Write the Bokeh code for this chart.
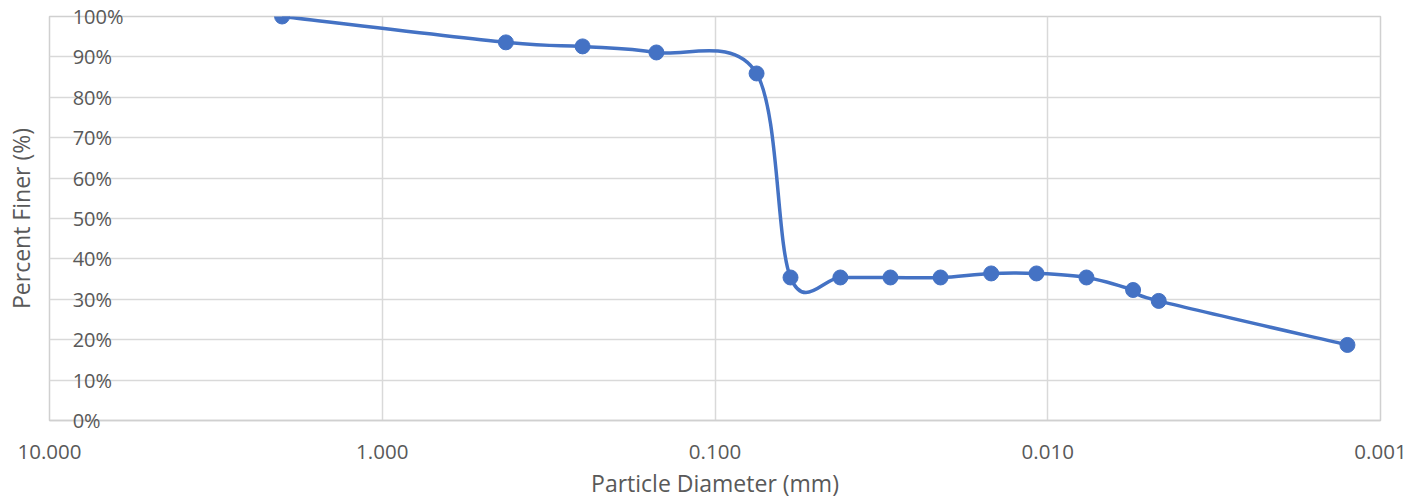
import numpy as np
from bokeh.plotting import figure
from bokeh.models import (Range1d, FixedTicker, PrintfTickFormatter, LogAxis,
                          ColumnDataSource)
from bokeh.embed import file_html
from bokeh.resources import INLINE

# ---- data ----
diameter_mm = [2.0, 0.425, 0.25, 0.15, 0.075, 0.0593, 0.0420, 0.0297, 0.0210,
               0.01479, 0.01081, 0.00765, 0.00554, 0.00464, 0.001257]
percent_finer = [100.0, 93.6, 92.6, 91.1, 85.9, 35.4, 35.4, 35.4, 35.4,
                 36.4, 36.4, 35.4, 32.3, 29.6, 18.7]
x_ticks = [10, 1, 0.1, 0.01, 0.001]
y_ticks = [0, 10, 20, 30, 40, 50, 60, 70, 80, 90, 100]
y_tick_labels = [f"{v}%" for v in y_ticks]
x_title = "Particle Diameter (mm)"
y_title = "Percent Finer (%)"

FONT = "Open Sans"
TXT = "#595959"
BLUE = "#4472C4"
GRID = "#d9d9d9"

p = figure(width=1424, height=502, x_axis_type="log",
           x_range=Range1d(10, 0.001), y_range=Range1d(0, 100),
           output_backend="svg", toolbar_location=None,
           min_border_left=49, min_border_right=44,
           min_border_top=16, min_border_bottom=82)

p.background_fill_color = "white"
p.border_fill_color = "white"
p.outline_line_color = "#d0d0d0"
p.outline_line_width = 1.5

# grid
p.xgrid.ticker = FixedTicker(ticks=x_ticks)
p.ygrid.ticker = FixedTicker(ticks=y_ticks)
p.xgrid.grid_line_color = GRID
p.ygrid.grid_line_color = GRID
p.xgrid.grid_line_width = 1.5
p.ygrid.grid_line_width = 1.5
p.xgrid.minor_grid_line_color = None

# x axis
xa = p.xaxis[0]
xa.ticker = FixedTicker(ticks=x_ticks, minor_ticks=[])
xa.formatter = PrintfTickFormatter(format="%.3f")
xa.axis_line_color = "#d0d0d0"
xa.axis_line_width = 1.5
xa.major_tick_line_color = None
xa.minor_tick_line_color = None
xa.major_tick_out = 0
xa.major_tick_in = 0
xa.major_label_text_font = FONT
xa.major_label_text_font_size = "20.5px"
xa.major_label_text_color = TXT
xa.major_label_standoff = 24

# x axis title: a second (line-less) axis below, with one label at the log-centre
title_axis = LogAxis(ticker=FixedTicker(ticks=[0.1], minor_ticks=[]),
                     major_label_overrides={0.1: x_title},
                     axis_line_color=None, major_tick_line_color=None,
                     minor_tick_line_color=None, major_tick_out=0, major_tick_in=0,
                     major_label_standoff=5,
                     major_label_text_font=FONT, major_label_text_font_size="23px",
                     major_label_text_color=TXT)
p.add_layout(title_axis, "below")

# y axis: labels pulled inside the frame, left-aligned by padding with figure spaces
FS = "\u2007"
maxlen = max(len(t) for t in y_tick_labels)
padded = {v: t + FS * (maxlen - len(t)) for v, t in zip(y_ticks, y_tick_labels)}

ya = p.yaxis[0]
ya.ticker = FixedTicker(ticks=y_ticks, minor_ticks=[])
ya.major_label_overrides = padded
ya.axis_line_color = None
ya.major_tick_line_color = None
ya.minor_tick_line_color = None
ya.major_tick_out = 0
ya.major_tick_in = 0
ya.major_label_text_font = FONT
ya.major_label_text_font_size = "20px"
ya.major_label_text_color = TXT
ya.major_label_standoff = -74
ya.axis_label = y_title
ya.axis_label_text_font = FONT
ya.axis_label_text_font_size = "23px"
ya.axis_label_text_font_style = "normal"
ya.axis_label_text_color = TXT
ya.axis_label_standoff = 33

# smoothed line (cubic Bezier segments, Catmull-Rom style, in log-x space)
lx = np.log10(np.array(diameter_mm))
yy = np.array(percent_finer)
n = len(lx)
x0, y0, x1, y1, cx0, cy0, cx1, cy1 = ([] for _ in range(8))
for i in range(n - 1):
    im1 = max(i - 1, 0)
    ip2 = min(i + 2, n - 1)
    c0x = lx[i] + (lx[i + 1] - lx[im1]) / 6
    c0y = yy[i] + (yy[i + 1] - yy[im1]) / 6
    c1x = lx[i + 1] - (lx[ip2] - lx[i]) / 6
    c1y = yy[i + 1] - (yy[ip2] - yy[i]) / 6
    x0.append(10 ** lx[i]); y0.append(yy[i])
    x1.append(10 ** lx[i + 1]); y1.append(yy[i + 1])
    cx0.append(10 ** c0x); cy0.append(c0y)
    cx1.append(10 ** c1x); cy1.append(c1y)

bz = ColumnDataSource(dict(x0=x0, y0=y0, x1=x1, y1=y1,
                           cx0=cx0, cy0=cy0, cx1=cx1, cy1=cy1))
p.bezier(x0="x0", y0="y0", x1="x1", y1="y1", cx0="cx0", cy0="cy0",
         cx1="cx1", cy1="cy1", source=bz, line_color=BLUE, line_width=3.5)

p.scatter(diameter_mm, percent_finer, size=15, marker="circle",
          fill_color=BLUE, line_color=BLUE)

open("out.html", "w").write(file_html(p, INLINE))
